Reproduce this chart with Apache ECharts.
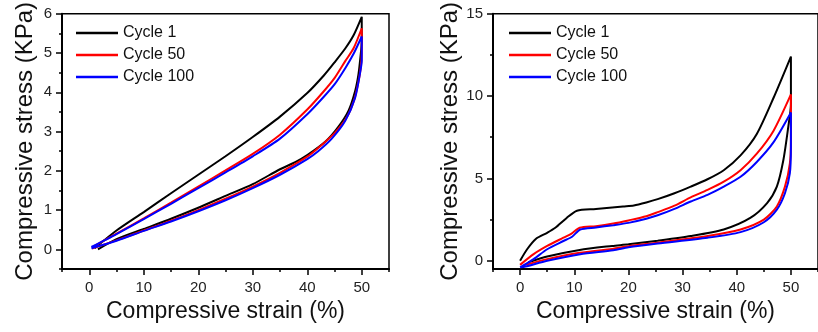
<!DOCTYPE html>
<html>
<head>
<meta charset="utf-8">
<script src="https://cdn.jsdelivr.net/npm/echarts@6/dist/echarts.min.js"></script>
<style>
  html, body { margin: 0; background: #fff; }
  #chart { width: 818px; height: 332px; }
</style>
</head>
<body>
<div id="chart"></div>
<script>
const cycleNames = ['Cycle 1', 'Cycle 50', 'Cycle 100'];

const xMajorTicks = [0, 10, 20, 30, 40, 50];
const xMinorTicks = [-5, 5, 15, 25, 35, 45, 55];
const leftYMajorTicks = [0, 1, 2, 3, 4, 5, 6];
const leftYMinorTicks = [-0.5, 0.5, 1.5, 2.5, 3.5, 4.5, 5.5];
const rightYMajorTicks = [0, 5, 10, 15];
const rightYMinorTicks = [2.5, 7.5, 12.5];

// left panel: [strain %, stress KPa], loading then unloading
const leftCycle1 = [[1.0, 0.03], [5, 0.48], [10, 0.95], [15, 1.43], [20, 1.9], [25, 2.37], [30, 2.86], [35, 3.38], [40, 3.98], [43, 4.42], [45, 4.76], [47, 5.12], [48.5, 5.45], [50, 5.92],
  [50, 5.3], [49.8, 4.95], [49.4, 4.46], [48.8, 4.04], [47.6, 3.54], [45.7, 3.12], [43.3, 2.74], [40, 2.4], [37.8, 2.22], [35, 2.04], [30, 1.66], [25, 1.36], [20, 1.06], [15, 0.78], [10, 0.52], [5, 0.26], [1.6, 0.0]];
const leftCycle50 = [[0.5, 0.05], [5, 0.4], [10, 0.79], [15, 1.19], [20, 1.6], [25, 2.01], [30, 2.43], [35, 2.92], [40, 3.56], [43, 4.02], [45, 4.36], [47, 4.8], [48.5, 5.12], [50, 5.63],
  [50, 5.0], [49.8, 4.6], [49.3, 4.2], [48.6, 3.8], [47.2, 3.35], [45, 2.96], [42, 2.58], [40, 2.36], [35, 1.95], [30, 1.6], [25, 1.29], [20, 1.0], [15, 0.73], [10, 0.48], [5, 0.23], [0.5, 0.02]];
const leftCycle100 = [[0.4, 0.06], [5, 0.39], [10, 0.77], [15, 1.16], [20, 1.56], [25, 1.96], [30, 2.37], [35, 2.82], [40, 3.44], [43, 3.88], [45, 4.2], [47, 4.62], [48.5, 4.98], [50, 5.42],
  [50, 4.8], [49.7, 4.5], [48.8, 3.87], [47, 3.28], [44.5, 2.82], [42, 2.5], [40, 2.3], [35, 1.9], [30, 1.56], [25, 1.25], [20, 0.97], [15, 0.71], [10, 0.47], [5, 0.22], [0.4, 0.03]];

// right panel
const rightCycle1 = [[0, 0], [1.3, 0.7], [3, 1.35], [5, 1.7], [6.5, 2.0], [8.6, 2.6], [10.5, 3.04], [14, 3.14], [19, 3.3], [21, 3.36], [23.3, 3.54], [25.4, 3.74], [28.5, 4.1], [31.5, 4.5], [34.6, 4.95], [37.6, 5.5], [40.7, 6.4], [43.7, 7.7], [46.8, 9.9], [50, 12.4],
  [50, 9.5], [49.5, 8.1], [48.6, 6.1], [47.4, 4.5], [45.6, 3.5], [42.5, 2.6], [37.6, 1.9], [31.5, 1.5], [25.4, 1.22], [20, 1.0], [17, 0.9], [11, 0.66], [5, 0.26], [1.5, -0.1]];
const rightCycle50 = [[0, -0.25], [2.5, 0.4], [5, 0.9], [8, 1.4], [9.5, 1.65], [11, 2.0], [14, 2.1], [17.2, 2.26], [20, 2.45], [23.3, 2.7], [25.4, 2.95], [28.5, 3.35], [31.5, 3.85], [34.6, 4.3], [37.6, 4.8], [40.7, 5.5], [43.7, 6.5], [46.8, 7.9], [50, 10.1],
  [50, 7.3], [49.8, 5.9], [48.9, 4.5], [47.4, 3.3], [45, 2.5], [40.7, 1.9], [34.6, 1.5], [25.4, 1.1], [20, 0.88], [17, 0.72], [11, 0.48], [5, 0.1], [1, -0.25]];
const rightCycle100 = [[0, -0.4], [2.5, 0.1], [5, 0.7], [8, 1.2], [9.6, 1.46], [11.1, 1.9], [14, 2.02], [17.2, 2.16], [20, 2.3], [23.3, 2.55], [25.4, 2.76], [28.5, 3.15], [31.5, 3.6], [34.6, 4.0], [37.6, 4.5], [40.7, 5.1], [43.7, 6.0], [46.8, 7.2], [50, 9.0],
  [50, 6.9], [49.8, 5.3], [48.9, 4.1], [47.4, 3.1], [45, 2.34], [40.7, 1.74], [34.6, 1.4], [25.4, 1.05], [20, 0.82], [17.2, 0.64], [11.1, 0.4], [5, 0.0], [1, -0.35], [0, -0.4]];

const colors = ['#000000', '#ff0000', '#0000ff'];
const font = "'Liberation Sans', Arial, sans-serif";

const chart = echarts.init(document.getElementById('chart'), null, { renderer: 'canvas' });

function xAxes(gridIndex) {
  return [
    {
      type: 'value', gridIndex, position: 'bottom', min: -5, max: 55,
      name: 'Compressive strain (%)', nameLocation: 'middle', nameGap: 26,
      nameTextStyle: { fontFamily: font, fontSize: 23, color: '#111' },
      axisLine: { show: true, onZero: false, lineStyle: { color: '#000', width: 2 } },
      axisTick: { show: true, inside: false, length: 6, customValues: xMajorTicks, lineStyle: { color: '#000', width: 1.5 } },
      axisLabel: { show: true, customValues: xMajorTicks, margin: 11, fontFamily: font, fontSize: 15, color: '#222' },
      splitLine: { show: false }
    },
    {
      type: 'value', gridIndex, position: 'bottom', min: -5, max: 55,
      axisLine: { show: false, onZero: false },
      axisTick: { show: true, inside: false, length: 3, customValues: xMinorTicks, lineStyle: { color: '#000', width: 1.5 } },
      axisLabel: { show: false },
      splitLine: { show: false }
    }
  ];
}

function yAxes(gridIndex, max, major, minor, nameGap) {
  return [
    {
      type: 'value', gridIndex, position: 'left', min: -0.5, max,
      name: 'Compressive stress (KPa)', nameLocation: 'middle', nameGap,
      nameTextStyle: { fontFamily: font, fontSize: 24, color: '#111' },
      axisLine: { show: true, onZero: false, lineStyle: { color: '#000', width: 2 } },
      axisTick: { show: true, inside: false, length: 6, customValues: major, lineStyle: { color: '#000', width: 1.5 } },
      axisLabel: { show: true, customValues: major, margin: 10, fontFamily: font, fontSize: 15, color: '#222' },
      splitLine: { show: false }
    },
    {
      type: 'value', gridIndex, position: 'left', min: -0.5, max,
      axisLine: { show: false, onZero: false },
      axisTick: { show: true, inside: false, length: 3, customValues: minor, lineStyle: { color: '#000', width: 1.5 } },
      axisLabel: { show: false },
      splitLine: { show: false }
    }
  ];
}

function cycleSeries(data, i, axisIndex) {
  return {
    name: cycleNames[i],
    type: 'line',
    xAxisIndex: axisIndex,
    yAxisIndex: axisIndex,
    data,
    symbol: 'none',
    smooth: 0.25,
    lineStyle: { color: colors[i], width: 2 },
    itemStyle: { color: colors[i] },
    z: 3 + i
  };
}

function legendAt(left) {
  return {
    data: cycleNames,
    orient: 'vertical',
    left, top: 24,
    padding: 0,
    icon: 'rect',
    itemWidth: 42, itemHeight: 2.5, itemGap: 4,
    selectedMode: false,
    textStyle: { fontFamily: font, fontSize: 16, color: '#111', lineHeight: 18 }
  };
}

const option = {
  animation: false,
  backgroundColor: '#fff',
  grid: [
    { left: 62, top: 12, width: 327, height: 257, show: true, borderColor: '#000', borderWidth: 1.5 },
    { left: 493, top: 12, width: 328, height: 257, show: true, borderColor: '#000', borderWidth: 1.5 }
  ],
  xAxis: [...xAxes(0), ...xAxes(1)],
  yAxis: [...yAxes(0, 6, leftYMajorTicks, leftYMinorTicks, 25), ...yAxes(1, 15, rightYMajorTicks, rightYMinorTicks, 29)],
  legend: [legendAt(76), legendAt(509)],
  series: [
    cycleSeries(leftCycle1, 0, 0),
    cycleSeries(leftCycle50, 1, 0),
    cycleSeries(leftCycle100, 2, 0),
    cycleSeries(rightCycle1, 0, 2),
    cycleSeries(rightCycle50, 1, 2),
    cycleSeries(rightCycle100, 2, 2)
  ]
};

chart.setOption(option);
</script>
</body>
</html>
